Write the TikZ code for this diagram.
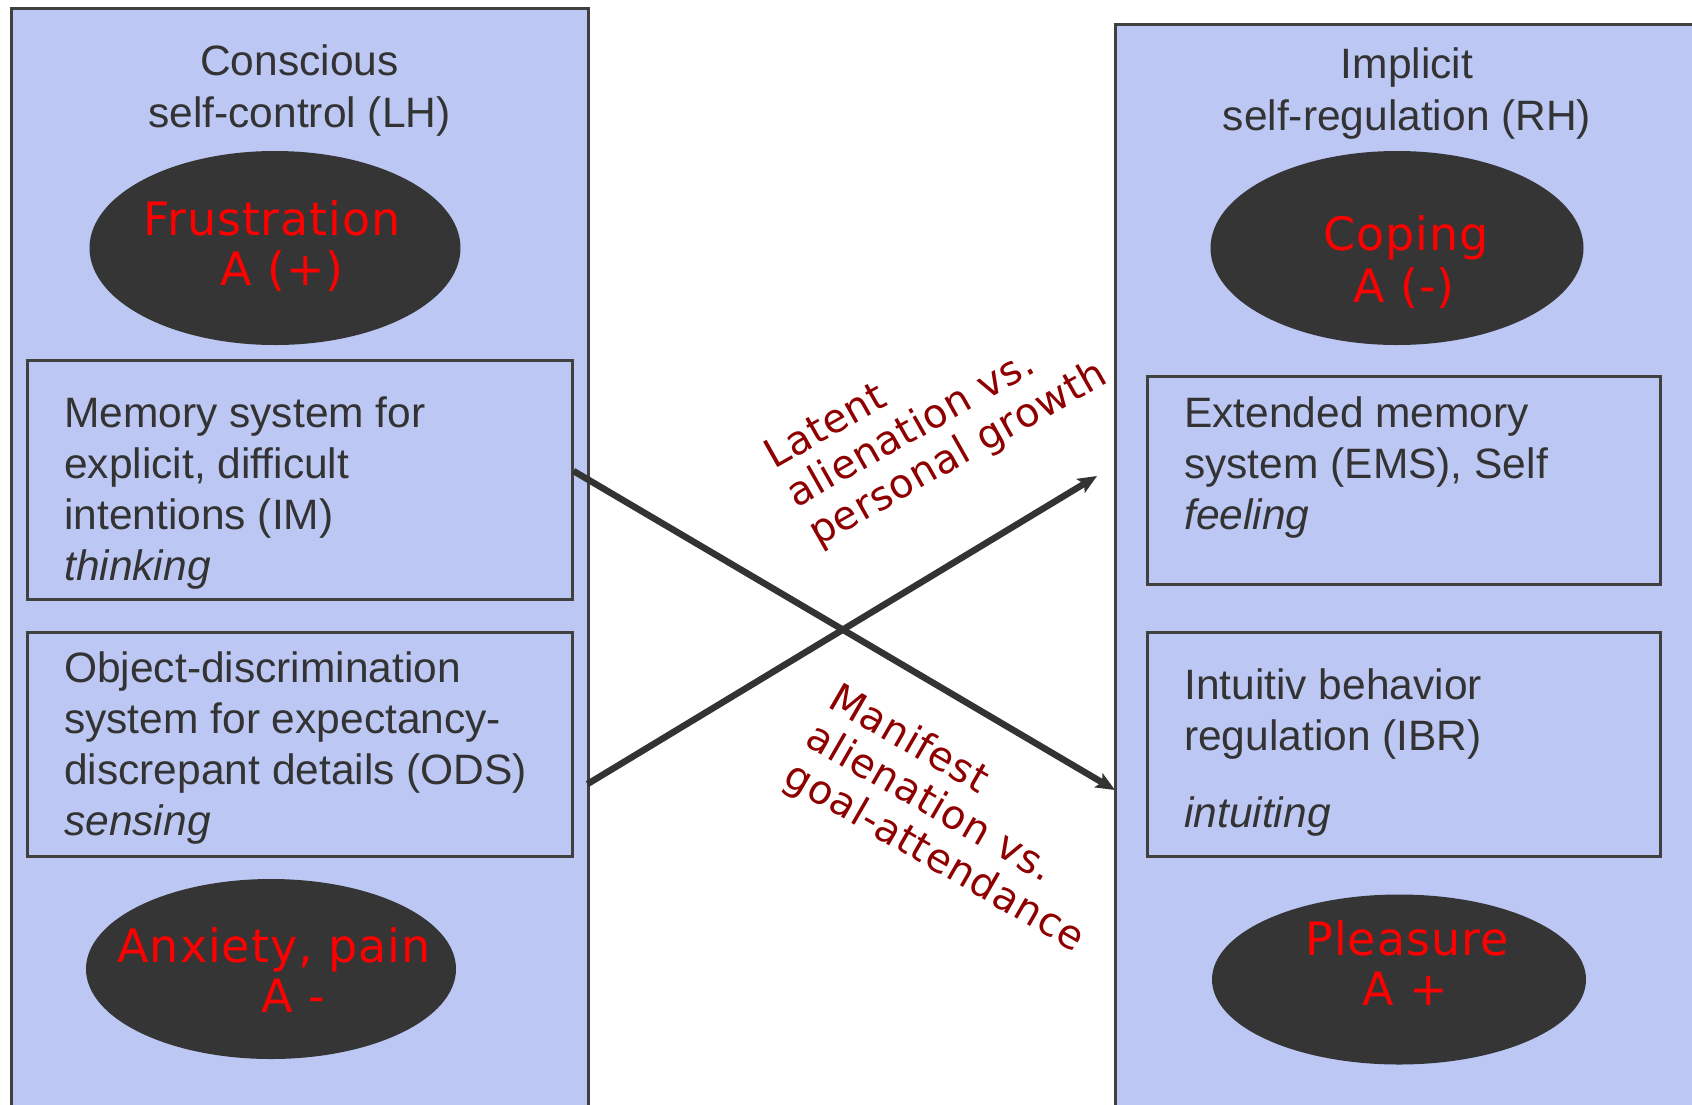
\documentclass[tikz,border=0pt]{standalone}
\usepackage{fontspec}
\setmainfont{Liberation Sans}
\newfontfamily\widesans[LetterSpace=2]{DejaVu Sans}
\usetikzlibrary{shapes.geometric,arrows.meta}

\definecolor{panelblue}{HTML}{BCC7F4}
\definecolor{edgegray}{HTML}{404040}
\definecolor{inkgray}{HTML}{333333}
\definecolor{blob}{HTML}{353535}
\definecolor{affect}{HTML}{FF0000}
\definecolor{pathred}{HTML}{8E0000}

% multi-line nodes are anchored at the baseline of their last line
\tikzset{
  panel/.style={rectangle, draw=edgegray, fill=panelblue, line width=3pt, inner sep=0pt},
  sysbox/.style={rectangle, draw=edgegray, line width=3pt, inner sep=0pt},
  blobnode/.style={ellipse, fill=blob, inner sep=0pt},
  title/.style={font=\fontsize{42.5}{52}\selectfont, text=inkgray, align=center, inner sep=0pt, anchor=base},
  boxtext/.style={font=\fontsize{42.5}{51}\selectfont, text=inkgray, align=left, inner sep=0pt, anchor=base west},
  affecttext/.style={font=\widesans\fontsize{46}{50}\selectfont, text=affect, inner sep=0pt, anchor=base},
  pathlabel/.style={font=\widesans\fontsize{40}{44.5}\selectfont, text=pathred, align=left, inner sep=0pt, anchor=base west},
  crossarrow/.style={draw=inkgray, line width=6.5pt, -{Stealth[length=19pt,width=16pt,inset=4pt]}},
}

\begin{document}
\begin{tikzpicture}[x=1pt, y=-1pt]
  \useasboundingbox (0,0) rectangle (1692,1104);
  \clip (0,0) rectangle (1692,1104);

  % hemisphere panels
  \node[panel, minimum width=577pt, minimum height=1112pt] (lp) at (299.5,564) {};
  \node[panel, minimum width=595pt, minimum height=1096pt] (rp) at (1412.5,572) {};

  % panel titles
  \node[title] (lt) at (299.5,127) {Conscious\\self-control (LH)};
  \node[title] (rt) at (1407,130) {Implicit\\self-regulation (RH)};

  % affect ellipses
  \node[blobnode, minimum width=371pt, minimum height=194pt] (frus) at (275,248) {};
  \node[blobnode, minimum width=373pt, minimum height=194pt] (cope) at (1397,248) {};
  \node[blobnode, minimum width=370pt, minimum height=180pt] (anx) at (271,969) {};
  \node[blobnode, minimum width=374pt, minimum height=170pt] (pleas) at (1399,979.5) {};

  \node[affecttext] (frus1) at (272,235) {Frustration};
  \node[affecttext] (frus2) at (282,285) {A (+)};
  \node[affecttext] (cope1) at (1406,250) {Coping};
  \node[affecttext] (cope2) at (1404,302) {A (-)};
  \node[affecttext] (anx1) at (274,962) {Anxiety, pain};
  \node[affecttext] (anx2) at (293,1012) {A -};
  \node[affecttext] (pleas1) at (1407,955) {Pleasure};
  \node[affecttext] (pleas2) at (1405,1005) {A +};

  % system boxes
  \node[sysbox, minimum width=545pt, minimum height=239pt] (im) at (299.5,479.5) {};
  \node[sysbox, minimum width=545pt, minimum height=224pt] (ods) at (299.5,744) {};
  \node[sysbox, minimum width=513pt, minimum height=208pt] (ems) at (1403.5,480) {};
  \node[sysbox, minimum width=513pt, minimum height=224pt] (ibr) at (1403.5,744) {};

  \node[boxtext] (imtext) at (64,580)
    {Memory system for\\explicit, difficult\\intentions (IM)\\\textit{thinking}};
  \node[boxtext] (odstext) at (64,835)
    {Object-discrimination\\system for expectancy-\\discrepant details (ODS)\\\textit{sensing}};
  \node[boxtext] (emstext) at (1184,529)
    {Extended memory\\system (EMS), Self\\\textit{feeling}};
  \node[boxtext] (ibrtext) at (1184,827)
    {Intuitiv behavior\\regulation (IBR)\\[26pt]\textit{intuiting}};

  % crossing pathways
  \coordinate (a1s) at ([yshift=8.5pt]im.east);
  \coordinate (a1e) at (1115,790);
  \coordinate (a2s) at (587.5,784);
  \coordinate (a2e) at (1097,476);
  \draw[crossarrow] (a1s) -- (a1e);
  \draw[crossarrow] (a2s) -- (a2e);

  % pathway labels
  \node[pathlabel, rotate=29.5] (latent) at (818,547)
    {Latent\\alienation vs.\\personal growth};
  \node[pathlabel, rotate=-30] (manifest) at (781.5,783)
    {Manifest\\alienation vs.\\goal-attendance};
\end{tikzpicture}
\end{document}
